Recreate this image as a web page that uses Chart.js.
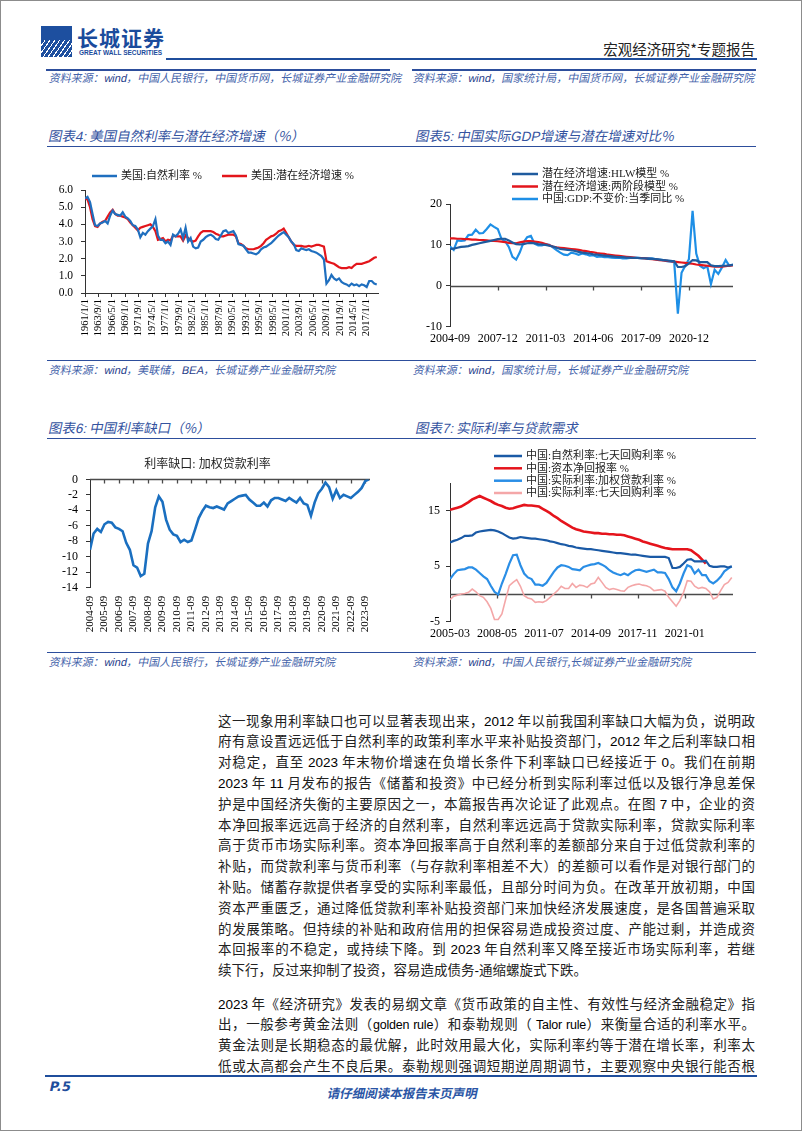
<!DOCTYPE html>
<html lang="zh-CN">
<head>
<meta charset="utf-8">
<title>宏观经济研究*专题报告 P.5</title>
<script src="https://cdn.jsdelivr.net/npm/chart.js@4.4.1/dist/chart.umd.min.js"></script>
<style>
  html, body { margin: 0; padding: 0; background: #fff; }
  body { width: 802px; height: 1133px; position: relative; overflow: hidden;
         font-family: "Noto Sans CJK SC", sans-serif; }
  .frame { position: absolute; left: 0; top: 0; width: 800px; height: 1129px; border: 1px solid #8c8c8c; }
  .rule { position: absolute; background: #2d4e9c; }
  .slant { transform: skewX(-12deg); transform-origin: left bottom; }
  .src { position: absolute; font-size: 11px; line-height: 14px; color: #4463aa; white-space: nowrap; }
  .src b { font-weight: normal; color: #1f3d8a; font-family: "Liberation Sans", sans-serif; }
  .ctitle { position: absolute; font-size: 13.5px; line-height: 18px; color: #34539f; white-space: nowrap; }
  .ctitle i { font-style: normal; font-family: "Liberation Sans", sans-serif; }
  .box { position: absolute; }
  .para { position: absolute; left: 218px; width: 537px; font-size: 13.5px; color: #222; }
  .para div { height: 20.8px; line-height: 20.8px; text-align: justify; text-align-last: justify; overflow: hidden; }
  .para div.last { text-align-last: left; }
  .para span { font-family: "Liberation Sans", sans-serif; color: #000; }
  .para .en { font-size: 12.5px; letter-spacing: -0.2px; }
  .logo { position: absolute; left: 41px; top: 26px; width: 31px; height: 31px;
          background: repeating-linear-gradient(125deg, #1d4f9f 0 3px, #fff 3px 4px); }
  .logo:after { content: ""; position: absolute; left: 0; top: 0; width: 31px; height: 14px; background: #1d4f9f; }
</style>
</head>
<body>
<div class="frame"></div>

<!-- header -->
<div class="logo"></div>
<div style="position:absolute;left:77px;top:24px;font-size:21px;line-height:26px;font-weight:bold;color:#1a4b9c;letter-spacing:1px;">长城证券</div>
<div style="position:absolute;left:79px;top:49px;font-size:6.5px;line-height:8px;font-weight:bold;color:#1a4b9c;font-family:'Liberation Sans',sans-serif;">GREAT WALL SECURITIES</div>
<div style="position:absolute;right:47px;top:39px;font-size:14.5px;line-height:20px;color:#222;">宏观经济研究*专题报告</div>
<div class="rule" style="left:166px;top:58px;width:591px;height:2px;background:#1f4e9c;"></div>

<!-- sources of previous page charts -->
<div class="rule" style="left:46px;top:69px;width:344px;height:1.5px;"></div>
<div class="rule" style="left:412px;top:69px;width:344px;height:1.5px;"></div>
<div class="src slant" style="left:48px;top:70px;">资料来源：<b>wind</b>，中国人民银行，中国货币网，长城证券产业金融研究院</div>
<div class="src slant" style="left:412px;top:70px;">资料来源：<b>wind</b>，国家统计局，中国货币网，长城证券产业金融研究院</div>

<!-- chart titles row 1 -->
<div class="ctitle slant" style="left:47px;top:126px;">图表<i>4:</i> 美国自然利率与潜在经济增速（%）</div>
<div class="ctitle slant" style="left:414px;top:126px;">图表<i>5:</i> 中国实际<i>GDP</i>增速与潜在增速对比%</div>
<div class="rule" style="left:47px;top:146px;width:709px;height:1px;"></div>

<div class="box" style="left:45px;top:160px;width:345px;height:195px;"><canvas id="c4"></canvas></div>
<div class="box" style="left:410px;top:160px;width:347px;height:195px;"><canvas id="c5"></canvas></div>

<div class="rule" style="left:47px;top:360px;width:709px;height:1px;"></div>
<div class="src slant" style="left:48px;top:362px;">资料来源：<b>wind</b>，美联储，<b>BEA</b>，长城证券产业金融研究院</div>
<div class="src slant" style="left:412px;top:362px;">资料来源：<b>wind</b>，国家统计局，长城证券产业金融研究院</div>

<!-- chart titles row 2 -->
<div class="ctitle slant" style="left:47px;top:418px;">图表<i>6:</i> 中国利率缺口（%）</div>
<div class="ctitle slant" style="left:414px;top:418px;">图表<i>7:</i> 实际利率与贷款需求</div>
<div class="rule" style="left:47px;top:438px;width:709px;height:1px;"></div>

<div class="box" style="left:45px;top:445px;width:345px;height:205px;"><canvas id="c6"></canvas></div>
<div class="box" style="left:410px;top:445px;width:347px;height:205px;"><canvas id="c7"></canvas></div>

<div class="rule" style="left:47px;top:652px;width:709px;height:1px;"></div>
<div class="src slant" style="left:48px;top:654px;">资料来源：<b>wind</b>，中国人民银行，长城证券产业金融研究院</div>
<div class="src slant" style="left:412px;top:654px;">资料来源：<b>wind</b>，中国人民银行,长城证券产业金融研究院</div>

<!-- body text -->
<div class="para" style="top:709.6px;">
  <div>这一现象用利率缺口也可以显著表现出来，<span>2012</span> 年以前我国利率缺口大幅为负，说明政</div>
  <div>府有意设置远远低于自然利率的政策利率水平来补贴投资部门，<span>2012</span> 年之后利率缺口相</div>
  <div>对稳定，直至 <span>2023</span> 年末物价增速在负增长条件下利率缺口已经接近于 <span>0</span>。我们在前期</div>
  <div><span>2023</span> 年 <span>11</span> 月发布的报告《储蓄和投资》中已经分析到实际利率过低以及银行净息差保</div>
  <div>护是中国经济失衡的主要原因之一，本篇报告再次论证了此观点。在图 <span>7</span> 中，企业的资</div>
  <div>本净回报率远远高于经济的自然利率，自然利率远远高于贷款实际利率，贷款实际利率</div>
  <div>高于货币市场实际利率。资本净回报率高于自然利率的差额部分来自于过低贷款利率的</div>
  <div>补贴，而贷款利率与货币利率（与存款利率相差不大）的差额可以看作是对银行部门的</div>
  <div>补贴。储蓄存款提供者享受的实际利率最低，且部分时间为负。在改革开放初期，中国</div>
  <div>资本严重匮乏，通过降低贷款利率补贴投资部门来加快经济发展速度，是各国普遍采取</div>
  <div>的发展策略。但持续的补贴和政府信用的担保容易造成投资过度、产能过剩，并造成资</div>
  <div>本回报率的不稳定，或持续下降。到 <span>2023</span> 年自然利率又降至接近市场实际利率，若继</div>
  <div class="last">续下行，反过来抑制了投资，容易造成债务<span>-</span>通缩螺旋式下跌。</div>
</div>
<div class="para" style="top:992.6px;">
  <div><span>2023</span> 年《经济研究》发表的易纲文章《货币政策的自主性、有效性与经济金融稳定》指</div>
  <div>出，一般参考黄金法则（<span class="en">golden rule</span>）和泰勒规则（ <span class="en">Talor rule</span>）来衡量合适的利率水平。</div>
  <div>黄金法则是长期稳态的最优解，此时效用最大化，实际利率约等于潜在增长率，利率太</div>
  <div>低或太高都会产生不良后果。泰勒规则强调短期逆周期调节，主要观察中央银行能否根</div>
</div>

<!-- footer -->
<div class="rule" style="left:45px;top:1075px;width:712px;height:2px;background:#1f4e9c;"></div>
<div class="slant" style="position:absolute;left:48px;top:1079px;font-size:13px;line-height:16px;font-weight:bold;color:#1f4e9c;font-family:'DejaVu Sans',sans-serif;">P.5</div>
<div style="position:absolute;left:0;width:802px;top:1079px;text-align:center;">
  <span class="slant" style="display:inline-block;font-size:12.5px;line-height:16px;font-weight:bold;color:#2a55a5;">请仔细阅读本报告末页声明</span>
</div>

<script>
// ---- 图表4: US natural rate vs potential growth (half-yearly, 1961.0 - 2019.0)
const usStart = 1961, usEnd = 2019;
const usNatural = [
  5.5,5.6,5.3,4.6,3.95,3.9,4.05,4.1,4.2,4.05, 4.5,4.8,4.6,4.55,4.5,4.7,4.45,4.35,4.2,3.95,
  3.9,3.7,3.25,3.5,3.4,3.6,3.75,3.9,4.3,3.35, 3.1,3.1,2.9,3.0,2.8,3.4,3.3,3.45,3.7,3.2,
  3.8,3.0,3.2,2.7,2.6,2.65,3.0,3.1,3.25,3.35, 3.4,3.3,3.15,3.1,3.35,3.6,3.65,3.5,3.55,3.6,
  3.35,2.85,2.8,2.75,2.55,2.35,2.35,2.3,2.25,2.35, 2.55,2.65,2.7,2.8,2.9,3.05,3.2,3.35,3.45,3.55,
  3.4,3.25,3.0,2.85,2.5,2.45,2.6,2.55,2.5,2.55, 2.45,2.4,2.35,2.25,2.15,1.95,0.55,0.75,1.05,0.85,
  0.75,0.85,0.65,0.55,0.5,0.4,0.55,0.45,0.5,0.4, 0.5,0.45,0.35,0.7,0.7,0.55,0.5
];
const usPotential = [
  5.5,5.45,5.0,4.3,3.9,3.85,4.05,4.15,4.2,4.45, 4.7,4.85,4.6,4.5,4.5,4.45,4.4,4.3,4.1,3.95,
  3.8,3.65,3.8,3.85,3.9,3.95,4.0,3.85,3.6,3.1, 3.15,3.2,3.0,3.1,3.05,3.35,3.3,3.3,3.3,3.05,
  3.35,3.2,3.05,3.0,3.05,3.3,3.5,3.6,3.6,3.6, 3.6,3.55,3.45,3.4,3.3,3.3,3.35,3.4,3.4,3.4,
  3.3,2.9,2.85,2.75,2.6,2.55,2.55,2.55,2.6,2.65, 2.75,2.9,3.1,3.2,3.3,3.35,3.45,3.6,3.65,3.75,
  3.5,3.25,3.0,2.8,2.75,2.75,2.75,2.7,2.7,2.75, 2.7,2.75,2.8,2.8,2.75,2.7,1.85,1.8,1.75,1.7,
  1.6,1.5,1.45,1.45,1.45,1.5,1.45,1.6,1.7,1.7, 1.7,1.75,1.8,1.85,1.95,2.05,2.1
];
const usTickLabels = ['1961/1/1','1963/9/1','1966/5/1','1969/1/1','1971/9/1','1974/5/1','1977/1/1',
  '1979/9/1','1982/5/1','1985/1/1','1987/9/1','1990/5/1','1993/1/1','1995/9/1','1998/5/1','2001/1/1',
  '2003/9/1','2006/5/1','2009/1/1','2011/9/1','2014/5/1','2017/1/1'];

// ---- 图表5: China GDP vs potential growth (quarterly, 2004Q3 - 2023Q4)
const cnHLW = [
  9.0,9.1,9.3,9.5,9.6,9.7,10.0,10.2,10.4,10.6,10.8,11.0,11.2,
  11.4,11.5,11.5,11.1,10.6,10.2,10.1,10.2,10.4,10.5,10.4,10.2,10.1,
  10.0,9.8,9.6,9.3,9.0,8.9,8.8,8.7,8.5,8.3,8.1,8.0,7.9,
  7.7,7.6,7.5,7.4,7.3,7.2,7.1,7.0,7.0,6.9,6.9,6.8,6.8,
  6.7,6.7,6.6,6.6,6.5,6.4,6.3,6.2,6.1,6.0,4.6,4.6,4.8,
  5.5,6.3,6.2,5.8,5.8,5.8,5.0,4.8,4.8,4.9,4.9,5.0,5.1
];
const cnTwoStage = [
  11.6,11.6,11.5,11.5,11.4,11.4,11.3,11.3,11.2,11.2,11.1,11.0,11.0,
  10.9,10.8,10.7,10.5,10.4,10.4,10.6,10.8,10.9,10.9,10.8,10.7,10.5,
  10.2,9.9,9.6,9.4,9.3,9.2,9.1,9.0,8.9,8.8,8.6,8.5,8.3,
  8.2,8.0,7.9,7.8,7.6,7.5,7.4,7.3,7.2,7.1,7.0,6.9,6.8,
  6.8,6.7,6.6,6.5,6.4,6.3,6.2,6.1,6.0,5.9,5.8,5.7,5.6,
  5.5,5.4,5.2,5.1,5.0,4.9,4.8,4.7,4.7,4.7,4.8,4.9,5.0
];
const cnGDP = [
  9.6,8.8,11.1,11.0,11.1,12.4,12.5,13.7,12.8,12.9,13.9,15.0,14.4,
  13.9,11.5,10.9,9.5,7.1,6.4,8.2,10.6,11.9,12.2,10.3,9.9,9.9,
  10.2,10.0,9.4,8.7,8.1,7.6,7.5,8.1,7.9,7.6,7.9,7.7,7.4,
  7.5,7.1,7.2,7.0,7.0,6.9,6.8,6.9,6.7,6.7,6.8,6.9,6.9,
  6.8,6.8,6.8,6.7,6.5,6.4,6.3,6.0,5.9,5.8,-6.8,3.2,4.9,
  6.5,18.3,7.9,4.9,4.3,4.8,0.4,3.9,2.9,4.5,6.3,4.9,5.2
];
const gdpTickLabels = ['2004-09','2007-12','2011-03','2014-06','2017-09','2020-12'];

// ---- 图表6: rate gap, weighted loan rate (quarterly, 2004Q3 - 2023Q4)
const rateGap = [
  -9.1,-7.0,-6.4,-6.8,-5.8,-5.5,-5.6,-6.2,-6.4,-6.7,-8.2,-9.1,-11.1,
  -11.4,-12.5,-12.2,-8.3,-6.7,-3.6,-2.2,-2.9,-5.2,-6.5,-7.1,-7.3,-8.1,
  -7.8,-8.1,-7.9,-6.5,-5.0,-4.1,-3.4,-3.6,-3.7,-3.5,-3.7,-3.9,-3.1,
  -2.8,-2.5,-2.2,-2.1,-2.0,-2.6,-3.0,-3.4,-3.4,-3.0,-3.5,-2.7,-2.4,
  -2.4,-2.6,-2.8,-2.4,-2.7,-3.0,-2.4,-3.1,-3.3,-4.7,-3.0,-1.8,-1.2,
  -0.4,-1.0,-2.5,-1.4,-2.4,-2.0,-2.2,-2.4,-2.0,-1.6,-1.1,-0.2,0
];
const gapTickLabels = ['2004-09','2005-09','2006-09','2007-09','2008-09','2009-09','2010-09',
  '2011-09','2012-09','2013-09','2014-09','2015-09','2016-09','2017-09','2018-09','2019-09',
  '2020-09','2021-09','2022-09','2023-09'];

// ---- 图表7: real rates and loan demand (quarterly samples from 2005-03)
const natRepo = [
  9.3,9.6,9.8,10.1,10.5,10.5,10.6,11.1,11.3,11.4,11.5,
  11.6,11.5,11.3,11.0,10.6,10.2,10.0,10.1,10.3,10.2,10.1,
  10.0,10.0,9.9,9.8,9.7,9.5,9.4,9.2,9.0,8.9,8.7,
  8.6,8.4,8.3,8.2,8.1,8.1,8.0,7.9,7.8,7.7,7.6,
  7.5,7.4,7.4,7.3,7.2,7.1,7.1,7.0,6.9,6.8,6.7,
  6.7,6.7,6.7,6.7,6.5,4.7,4.7,4.9,5.5,6.2,6.3,
  5.9,5.9,5.9,6.0,5.1,4.9,4.9,5.0,5.0,4.8,5.0
];
const capReturn = [
  15.2,15.4,15.6,15.8,16.2,16.6,17.1,17.4,17.7,17.4,17.1,
  16.8,16.4,16.1,15.9,15.6,15.4,15.5,15.7,15.9,16.1,16.0,
  16.0,15.9,15.8,15.4,15.0,14.6,14.1,13.7,13.2,12.8,12.4,
  12.0,11.7,11.5,11.3,11.2,11.1,11.0,11.0,10.9,10.9,10.8,
  10.8,10.7,10.7,10.6,10.4,10.2,10.0,9.8,9.5,9.3,9.1,
  8.9,8.7,8.5,8.3,8.2,8.1,8.1,8.1,8.1,8.1,7.9,
  7.4,6.9,6.2,5.5
];
const realLoan = [
  2.7,3.6,4.3,4.4,4.5,4.8,4.8,4.4,3.8,3.2,2.7,
  1.5,0.4,-0.1,1.9,3.6,5.5,7.0,7.1,5.2,3.7,3.0,
  2.7,1.7,1.7,1.5,2.0,3.0,4.0,4.8,5.2,5.1,4.9,
  4.5,4.4,4.3,4.9,5.1,5.3,5.4,5.6,5.3,4.9,4.3,
  3.9,3.6,3.4,3.7,3.4,3.9,4.3,4.4,4.2,4.0,4.2,
  4.4,3.9,3.9,3.8,2.7,1.2,0.5,1.9,3.7,5.2,4.9,
  3.7,4.4,3.4,3.4,2.3,1.9,2.4,3.1,4.1,4.6,5.0
];
const realRepo = [
  -1.0,-0.4,-0.2,0.0,0.1,0.3,0.9,0.4,-0.3,-0.6,-1.4,
  -2.6,-4.6,-4.6,-3.6,-1.0,1.5,2.1,2.6,1.4,-0.3,-0.7,
  -0.9,-1.5,-1.4,-1.5,-1.2,-0.6,0.0,0.6,1.4,1.0,1.0,
  1.9,1.2,1.6,1.5,1.2,1.8,2.0,3.0,2.1,1.2,0.8,
  1.0,0.8,0.6,0.5,1.2,1.5,1.7,1.8,1.6,1.5,1.2,
  0.6,0.7,0.8,0.5,-0.6,-1.4,-2.2,-1.2,0.3,2.4,2.3,
  1.4,1.0,1.2,1.0,0.4,-0.9,-0.6,0.6,1.7,2.1,3.0
];
const loanTickLabels = ['2005-03','2008-05','2011-07','2014-09','2017-11','2021-01'];

// ---------- helpers
const serif = "'Liberation Serif', 'Noto Sans CJK SC', serif";
Chart.defaults.font.family = serif;
Chart.defaults.font.size = 11;
Chart.defaults.color = '#000';
Chart.defaults.animation = false;

function halfYears(n) { return Array.from({length: n}, (_, i) => usStart + i / 2); }
function asPoints(xs, ys) { return ys.map((y, i) => ({x: xs[i], y: y})); }
function indexPoints(ys, step) { return ys.map((y, i) => ({x: i * (step || 1), y: y})); }
// positions of tick labels in the scale's own units
function yearOf(lbl) { const p = lbl.split('/'); return +p[0] + (p[1] - 1) / 12; }
function monthsFrom(lbl, y0, m0) { const p = lbl.split('-'); return (p[0] - y0) * 12 + (p[1] - m0); }

// legend drawn over the canvas at fixed spots
const spotLegend = {
  id: 'spotLegend',
  afterDraw(chart, args, opts) {
    if (!opts.spots) return;
    const ctx = chart.ctx;
    ctx.save();
    ctx.font = '11px ' + serif;
    ctx.textBaseline = 'middle';
    chart.data.datasets.forEach((ds, i) => {
      const [x, y] = opts.spots[i];
      ctx.strokeStyle = ds.borderColor;
      ctx.lineWidth = opts.lineWidth || 2.5;
      ctx.beginPath();
      ctx.moveTo(x, y);
      ctx.lineTo(x + opts.len, y);
      ctx.stroke();
      ctx.fillStyle = '#222';
      ctx.fillText(ds.label, x + opts.len + 4, y + 0.5);
    });
    ctx.restore();
  }
};

// horizontal axis line at value 0 with small tick marks under it
const zeroAxis = {
  id: 'zeroAxis',
  beforeDatasetsDraw(chart, args, opts) {
    if (!opts.on) return;
    const {ctx, chartArea: a, scales: {x, y}} = chart;
    const y0 = Math.round(y.getPixelForValue(0)) + 0.5;
    ctx.save();
    ctx.strokeStyle = '#4a4a4a';
    ctx.lineWidth = 1.3;
    ctx.beginPath();
    ctx.moveTo(a.left, y0);
    ctx.lineTo(a.right, y0);
    x.ticks.forEach((t, i) => {
      if (i === 0) return;
      const px = Math.round(x.getPixelForValue(t.value)) + 0.5;
      ctx.moveTo(px, y0);
      ctx.lineTo(px, y0 + 4);
    });
    ctx.stroke();
    ctx.restore();
  }
};

function yAxis(min, max, width, extra) {
  return Object.assign({
    type: 'linear', min: min, max: max,
    afterFit: s => { s.width = width; },
    grid: {drawOnChartArea: false, drawTicks: true, tickLength: 4, color: '#333'},
    border: {display: true, color: '#333', width: 1}
  }, extra);
}

// ---------- 图表4
const usX = halfYears(usNatural.length);
const usTickVals = usTickLabels.map(yearOf);
new Chart(document.getElementById('c4'), {
  type: 'line',
  data: {
    datasets: [
      {label: '美国:自然利率 %', data: asPoints(usX, usNatural), borderColor: '#1f6fbf', borderWidth: 2.2},
      {label: '美国:潜在经济增速 %', data: asPoints(usX, usPotential), borderColor: '#e3151b', borderWidth: 2.2}
    ]
  },
  options: {
    responsive: true, maintainAspectRatio: false,
    layout: {padding: {top: 30, right: 12, left: 0, bottom: 0}},
    elements: {point: {radius: 0}, line: {tension: 0}},
    plugins: {legend: {display: false}, tooltip: {enabled: false},
      spotLegend: {spots: [[47, 16], [177, 16]], len: 25}},
    scales: {
      x: {
        type: 'linear', min: usStart, max: usEnd + 0.25,
        afterFit: s => { s.height = 62; },
        afterBuildTicks: s => { s.ticks = usTickVals.map(v => ({value: v})); },
        grid: {drawOnChartArea: false, drawTicks: true, tickLength: 4, color: '#333'},
        border: {display: true, color: '#333'},
        ticks: {autoSkip: false, minRotation: 90, maxRotation: 90, padding: 2, font: {size: 10.5},
          callback: (v, i) => usTickLabels[i]}
      },
      y: yAxis(0, 6, 40, {ticks: {stepSize: 1, autoSkip: false, padding: 8, font: {size: 11.5},
        callback: v => v.toFixed(1)}})
    }
  },
  plugins: [spotLegend]
});

// ---------- 图表5
const gdpTickVals = gdpTickLabels.map(l => monthsFrom(l, 2004, 9) / 3);
new Chart(document.getElementById('c5'), {
  type: 'line',
  data: {
    datasets: [
      {label: '潜在经济增速:HLW模型 %', data: indexPoints(cnHLW), borderColor: '#1f5b9e', borderWidth: 2.2},
      {label: '潜在经济增速:两阶段模型 %', data: indexPoints(cnTwoStage), borderColor: '#e3151b', borderWidth: 2.2},
      {label: '中国:GDP:不变价:当季同比 %', data: indexPoints(cnGDP), borderColor: '#1e8fe6', borderWidth: 2.2}
    ]
  },
  options: {
    responsive: true, maintainAspectRatio: false,
    layout: {padding: {top: 44, right: 24, left: 0, bottom: 0}},
    elements: {point: {radius: 0}, line: {tension: 0}},
    plugins: {legend: {display: false}, tooltip: {enabled: false},
      spotLegend: {spots: [[102, 14], [102, 26.5], [102, 39]], len: 26},
      zeroAxis: {on: true}},
    scales: {
      x: {
        type: 'linear', min: 0, max: cnGDP.length - 1,
        afterFit: s => { s.height = 28.3; },
        afterBuildTicks: s => { s.ticks = gdpTickVals.map(v => ({value: v})); },
        grid: {display: false, drawTicks: false},
        border: {display: false},
        ticks: {autoSkip: false, maxRotation: 0, padding: 5, font: {size: 12},
          callback: (v, i) => gdpTickLabels[i]}
      },
      y: yAxis(-10, 20, 40, {ticks: {stepSize: 10, autoSkip: false, padding: 4, font: {size: 12}}})
    }
  },
  plugins: [spotLegend, zeroAxis]
});

// ---------- 图表6
const gapTickVals = gapTickLabels.map(l => monthsFrom(l, 2004, 9) / 3);
new Chart(document.getElementById('c6'), {
  type: 'line',
  data: {
    datasets: [
      {label: '利率缺口:加权贷款利率', data: indexPoints(rateGap), borderColor: '#1a6fc0', borderWidth: 2.6}
    ]
  },
  options: {
    responsive: true, maintainAspectRatio: false,
    layout: {padding: {top: 0, right: 20, left: 0, bottom: 0}},
    elements: {point: {radius: 0}, line: {tension: 0}},
    plugins: {legend: {display: false}, tooltip: {enabled: false},
      title: {display: true, text: '利率缺口: 加权贷款利率', color: '#222',
        font: {size: 12, weight: 'normal', family: serif}, padding: {top: 13, bottom: 7}},
      zeroAxis: {on: true}},
    scales: {
      x: {
        type: 'linear', min: 0, max: rateGap.length - 0.7,
        afterFit: s => { s.height = 62.3; },
        afterBuildTicks: s => { s.ticks = gapTickVals.map(v => ({value: v})); },
        grid: {display: false, drawTicks: false},
        border: {display: false},
        ticks: {autoSkip: false, minRotation: 90, maxRotation: 90, padding: 8, font: {size: 11},
          callback: (v, i) => gapTickLabels[i]}
      },
      y: yAxis(-14, 0, 45, {ticks: {stepSize: 2, autoSkip: false, padding: 8, font: {size: 12}}})
    }
  },
  plugins: [zeroAxis]
});

// ---------- 图表7
const loanTickVals = loanTickLabels.map(l => monthsFrom(l, 2005, 3));
new Chart(document.getElementById('c7'), {
  type: 'line',
  data: {
    datasets: [
      {label: '中国:自然利率:七天回购利率 %', data: indexPoints(natRepo, 3), borderColor: '#1a5aa6', borderWidth: 2.2},
      {label: '中国:资本净回报率 %', data: indexPoints(capReturn, 3), borderColor: '#e5141c', borderWidth: 2.6},
      {label: '中国:实际利率:加权贷款利率 %', data: indexPoints(realLoan, 3), borderColor: '#2a8ee6', borderWidth: 2.2},
      {label: '中国:实际利率:七天回购利率 %', data: indexPoints(realRepo, 3), borderColor: '#f4a7a8', borderWidth: 1.6}
    ]
  },
  options: {
    responsive: true, maintainAspectRatio: false,
    layout: {padding: {top: 38.3, right: 24, left: 0, bottom: 0}},
    elements: {point: {radius: 0}, line: {tension: 0}},
    plugins: {legend: {display: false}, tooltip: {enabled: false},
      spotLegend: {spots: [[84, 11], [84, 23.3], [84, 35.7], [84, 48]], len: 28},
      zeroAxis: {on: true}},
    scales: {
      x: {
        type: 'linear', min: 0, max: 229,
        afterFit: s => { s.height = 28.3; },
        afterBuildTicks: s => { s.ticks = loanTickVals.map(v => ({value: v})); },
        grid: {display: false, drawTicks: false},
        border: {display: false},
        ticks: {autoSkip: false, maxRotation: 0, padding: 5, font: {size: 12},
          callback: (v, i) => loanTickLabels[i]}
      },
      y: yAxis(-5, 20, 40, {
        afterBuildTicks: s => { s.ticks = [-5, 5, 15].map(v => ({value: v})); },
        ticks: {autoSkip: false, padding: 6, font: {size: 12}}
      })
    }
  },
  plugins: [spotLegend, zeroAxis]
});
</script>
</body>
</html>
